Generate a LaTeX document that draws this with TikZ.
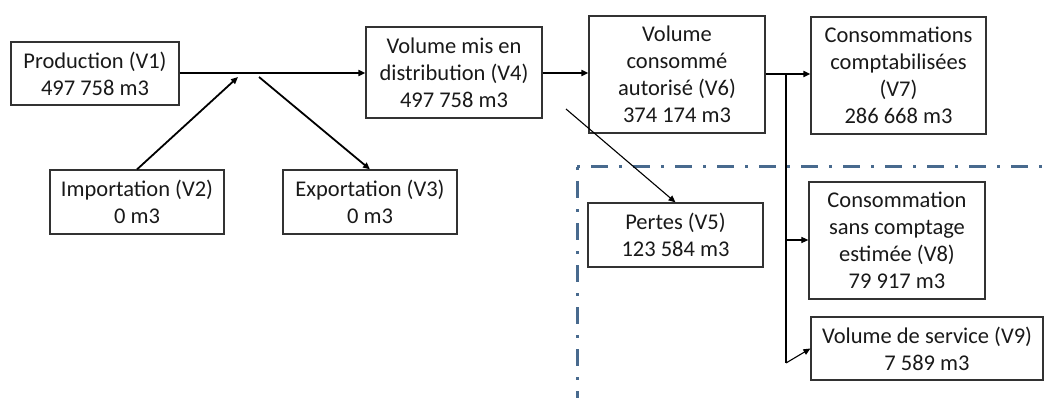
\documentclass[tikz,border=0pt]{standalone}
\usepackage{fontspec}
\setmainfont{Carlito}
\usetikzlibrary{arrows.meta}
\definecolor{dashblue}{RGB}{72,106,142}
\definecolor{boxline}{RGB}{50,50,50}
\tikzset{
  box/.style={draw=boxline, line width=1.2pt, rectangle, inner sep=0pt, align=center,
    font=\fontsize{22.5}{27}\selectfont, text=black!90},
  conn/.style={line width=1.8pt, -{Triangle[length=7pt,width=6pt]}},
  thinconn/.style={line width=1.1pt, -{Triangle[length=7pt,width=6pt]}},
  thinline/.style={line width=1.1pt},
  dashdot/.style={draw=dashblue, line width=3pt, dash pattern=on 3pt off 11pt on 17pt off 11pt}
}
\begin{document}
\begin{tikzpicture}[x=1pt,y=-1pt]
\useasboundingbox (0,0) rectangle (1046,398);
% boundary line
\coordinate (corner) at (577,167);
\coordinate (cbottom) at (577,398);
\coordinate (cright) at (1046,167);
\draw[dashdot] (corner) -- (cright);
\draw[dashdot] (corner) -- (cbottom);
% nodes
\node[box, minimum width=168pt, minimum height=63pt] (v1) at (95,73.5) {Production (V1)\\497 758 m3};
\node[box, minimum width=174pt, minimum height=64pt] (v2) at (137,202) {Importation (V2)\\0 m3};
\node[box, minimum width=174pt, minimum height=64pt] (v3) at (370,202) {Exportation (V3)\\0 m3};
\node[box, minimum width=176pt, minimum height=91pt] (v4) at (454,72.5) {Volume mis en\\distribution (V4)\\497 758 m3};
\node[box, minimum width=176pt, minimum height=117pt] (v6) at (677,74.5) {Volume\\consommé\\autorisé (V6)\\374 174 m3};
\node[box, minimum width=175pt, minimum height=117pt] (v7) at (898.5,75.5) {Consommations\\comptabilisées\\(V7)\\286 668 m3};
\node[box, minimum width=175pt, minimum height=64pt] (v5) at (675.5,235) {Pertes (V5)\\123 584 m3};
\node[box, minimum width=176pt, minimum height=117pt] (v8) at (897,240.5) {Consommation\\sans comptage\\estimée (V8)\\79 917 m3};
\node[box, minimum width=232pt, minimum height=63pt] (v9) at (927,348.5) {Volume de service (V9)\\7 589 m3};
% junction coordinates
\coordinate (jin) at (238,77);
\coordinate (jout) at (259,77);
\coordinate (v5start) at (566,109);
\coordinate (vtop) at (786,74);
\coordinate (vmid) at (786,240);
\coordinate (vbot) at (786,363);
% connectors
\draw[conn] (v1.east |- 0,73) -- (v4.west |- 0,73);
\draw[conn] (v2.north) -- (jin);
\draw[conn] (jout) -- (v3.north);
\draw[conn] (v4.east |- 0,73) -- (v6.west |- 0,73);
\draw[conn] (v6.east |- vtop) -- (v7.west |- vtop);
\draw[thinline] (vtop) -- (vbot);
\draw[thinconn] (vmid) -- (v8.west |- vmid);
\draw[thinconn] (vbot) -- (v9.west);
\draw[thinconn] (v5start) -- (v5.north);
\end{tikzpicture}
\end{document}
